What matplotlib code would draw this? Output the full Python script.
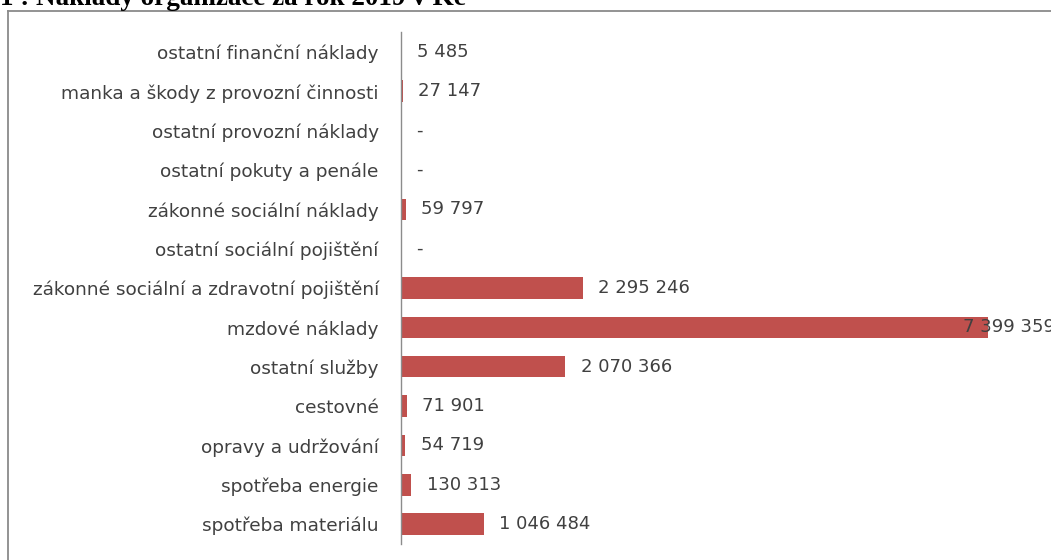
import matplotlib
matplotlib.use("Agg")
import matplotlib.pyplot as plt
from matplotlib.lines import Line2D

# categories listed bottom -> top, as drawn on the y axis
categories = [
    "spotřeba materiálu",
    "spotřeba energie",
    "opravy a udržování",
    "cestovné",
    "ostatní služby",
    "mzdové náklady",
    "zákonné sociální a zdravotní pojištění",
    "ostatní sociální pojištění",
    "zákonné sociální náklady",
    "ostatní pokuty a penále",
    "ostatní provozní náklady",
    "manka a škody z provozní činnosti",
    "ostatní finanční náklady",
]
costs = [1046484, 130313, 54719, 71901, 2070366, 7399359, 2295246,
         0, 59797, 0, 0, 27147, 5485]

title = "1 : Náklady organizace za rok 2019 v Kč"

BAR = "#C0504D"
TXT = "#404040"
FONT = "DejaVu Sans"
W, H = 1051, 560


def fmt(v):
    return "-" if v == 0 else f"{v:,}".replace(",", " ")


fig = plt.figure(figsize=(W / 100, H / 100), dpi=100)
fig.patch.set_facecolor("white")

# chart border (runs off the right and bottom edges)
fig.add_artist(Line2D([8 / W, 1.01], [1 - 11 / H] * 2, transform=fig.transFigure,
                      color="#8a8a8a", lw=1.3))
fig.add_artist(Line2D([8 / W] * 2, [1 - 11 / H, -0.01], transform=fig.transFigure,
                      color="#8a8a8a", lw=1.3))

fig.text(0, 1 - 5 / H, title, family="Liberation Serif", fontweight="bold",
         fontsize=19.5, ha="left", va="baseline", color="black")

left, right = 401 / W, 988 / W
bottom, top = (H - 543.7) / H, (H - 32.3) / H
ax = fig.add_axes([left, bottom, right - left, top - bottom])
ax.set_facecolor("none")

y = range(len(categories))
ax.barh(y, costs, height=0.55, color=BAR)

vmax = max(costs)
for yi, v in zip(y, costs):
    off = -18 if v == vmax else 11
    ax.annotate(fmt(v), (v, yi), xytext=(off, 0), textcoords="offset points",
                ha="left", va="center", fontsize=13, family=FONT,
                color=TXT, annotation_clip=False)

ax.set_xlim(0, 7.4e6)
ax.set_ylim(-0.5, len(categories) - 0.5)
ax.set_yticks(list(y))
ax.set_yticklabels(categories, fontsize=13.3, family=FONT, color=TXT)
ax.tick_params(axis="y", length=0, pad=16)
ax.set_xticks([])
for s in ("top", "right", "bottom"):
    ax.spines[s].set_visible(False)
ax.spines["left"].set_color("#8c8c8c")
ax.spines["left"].set_linewidth(1.0)

fig.savefig("out.png", dpi=100, facecolor="white")
